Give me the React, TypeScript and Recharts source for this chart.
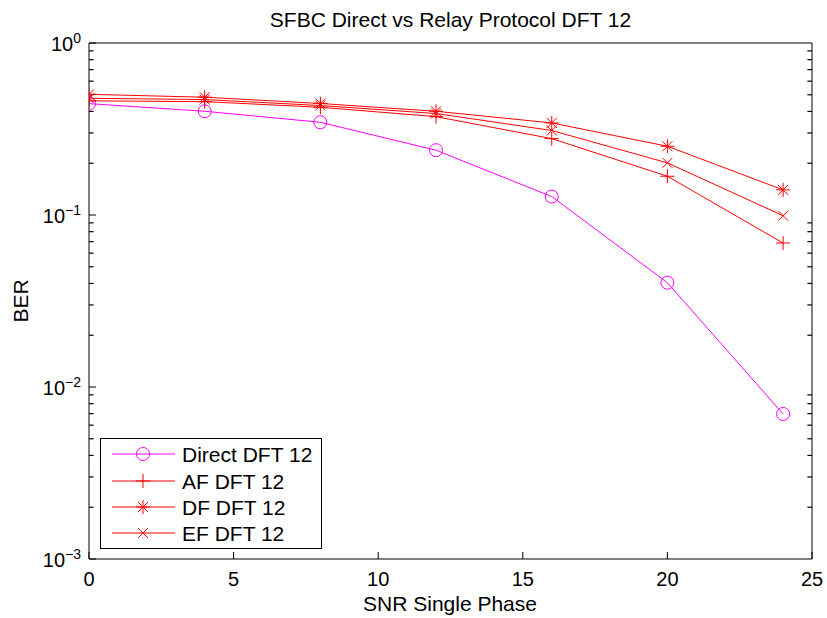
import React from 'react';
import { LineChart, Line, XAxis, YAxis, Legend, ReferenceLine } from 'recharts';

const snr = [0, 4, 8, 12, 16, 20, 24];
const directBer = [0.444, 0.401, 0.346, 0.238, 0.128, 0.0404, 0.00697];
const afBer = [0.461, 0.456, 0.423, 0.373, 0.278, 0.168, 0.0687];
const dfBer = [0.503, 0.484, 0.445, 0.401, 0.343, 0.251, 0.14];
const efBer = [0.477, 0.469, 0.433, 0.389, 0.31, 0.201, 0.099];

const xTicks = [0, 5, 10, 15, 20, 25];
const yMajorTicks = [0.001, 0.01, 0.1, 1];
const yMajorExponents = ['\u22123', '\u22122', '\u22121', '0'];
const yMinorTicks = [
  0.002, 0.003, 0.004, 0.005, 0.006, 0.007, 0.008, 0.009,
  0.02, 0.03, 0.04, 0.05, 0.06, 0.07, 0.08, 0.09,
  0.2, 0.3, 0.4, 0.5, 0.6, 0.7, 0.8, 0.9,
];
const xDomain = [0, 25];
const minorTickSpan = 0.16;

const seriesNames = ['Direct DFT 12', 'AF DFT 12', 'DF DFT 12', 'EF DFT 12'];
const seriesKeys = ['direct', 'af', 'df', 'ef'];
const seriesColors = ['#ff00ff', '#ff0000', '#ff0000', '#ff0000'];
const seriesMarkers = ['circle', 'plus', 'star', 'cross'];

const data = snr.map((s, i) => ({
  snr: s,
  direct: directBer[i],
  af: afBer[i],
  df: dfBer[i],
  ef: efBer[i],
}));

const FONT = '"Liberation Sans", Arial, Helvetica, sans-serif';

function Marker({ type, cx, cy, color }: { type: string; cx: number; cy: number; color: string }) {
  if (cx == null || cy == null) return null;
  const s = 7;
  const d = 5;
  if (type === 'circle') {
    return <circle cx={cx} cy={cy} r={6.5} fill="none" stroke={color} strokeWidth={1} />;
  }
  if (type === 'plus') {
    return (
      <path d={`M${cx - s},${cy}H${cx + s}M${cx},${cy - s}V${cy + s}`} stroke={color} strokeWidth={1} fill="none" />
    );
  }
  if (type === 'cross') {
    return (
      <path
        d={`M${cx - d},${cy - d}L${cx + d},${cy + d}M${cx - d},${cy + d}L${cx + d},${cy - d}`}
        stroke={color}
        strokeWidth={1}
        fill="none"
      />
    );
  }
  return (
    <path
      d={`M${cx - s},${cy}H${cx + s}M${cx},${cy - s}V${cy + s}M${cx - d},${cy - d}L${cx + d},${cy + d}M${cx - d},${cy + d}L${cx + d},${cy - d}`}
      stroke={color}
      strokeWidth={1}
      fill="none"
    />
  );
}

const majorIndex = (v: number) => yMajorTicks.findIndex((m) => Math.abs(v - m) / m < 1e-6);

const BottomTickLabel = (props: any) => {
  const { x, y, payload } = props;
  return (
    <text x={x} y={y + 27} textAnchor="middle" fontSize={20} fontFamily={FONT} fill="#000">
      {payload.value}
    </text>
  );
};

const LeftTickLabel = (props: any) => {
  const { x, y, payload } = props;
  const idx = majorIndex(payload.value);
  if (idx < 0) return <g />;
  return (
    <text x={x} y={y + 8} textAnchor="end" fontSize={20} fontFamily={FONT} fill="#000">
      <tspan>10</tspan>
      <tspan dy={-8} fontSize={14}>{yMajorExponents[idx]}</tspan>
    </text>
  );
};

const TitleLabel = () => (
  <text x={450.5} y={27} textAnchor="middle" fontSize={21} fontFamily={FONT} fill="#000">
    SFBC Direct vs Relay Protocol DFT 12
  </text>
);

const XLabel = () => (
  <text x={450} y={611} textAnchor="middle" fontSize={21} fontFamily={FONT} fill="#000">
    SNR Single Phase
  </text>
);

const YLabel = () => (
  <text
    x={28}
    y={301}
    textAnchor="middle"
    fontSize={21}
    fontFamily={FONT}
    fill="#000"
    transform="rotate(-90, 28, 301)"
  >
    BER
  </text>
);

const LegendBox = () => {
  const rows = [16, 43, 69, 95];
  return (
    <svg width={223} height={112} style={{ display: 'block' }}>
      <rect x={0.5} y={0.5} width={221} height={110} fill="#fff" stroke="#000" strokeWidth={1} />
      {seriesNames.map((name, i) => (
        <g key={name}>
          <path d={`M12,${rows[i]}H75`} stroke={seriesColors[i]} strokeWidth={1} fill="none" />
          <Marker type={seriesMarkers[i]} cx={43} cy={rows[i]} color={seriesColors[i]} />
          <text x={82} y={rows[i] + 8} fontSize={21} fontFamily={FONT} fill="#000">
            {name}
          </text>
        </g>
      ))}
    </svg>
  );
};

const tickLineStyle = { stroke: '#000', strokeWidth: 1 };
const axisLineStyle = { stroke: '#000', strokeWidth: 1 };

export default function App() {
  return (
    <div style={{ position: 'absolute', left: 0, top: 0, background: '#fff' }}>
      <LineChart
        width={827}
        height={618}
        data={data}
        margin={{ top: 42, right: 14, bottom: 0, left: 0 }}
        style={{ background: '#fff' }}
      >
        <XAxis
          xAxisId="bottom"
          dataKey="snr"
          type="number"
          domain={xDomain}
          ticks={xTicks}
          interval={0}
          height={59}
          stroke="#000"
          tickSize={-7}
          tickMargin={7}
          tickLine={tickLineStyle}
          tick={BottomTickLabel}
          axisLine={axisLineStyle}
          label={<XLabel />}
          allowDataOverflow
        />
        <XAxis
          xAxisId="top"
          orientation="top"
          dataKey="snr"
          type="number"
          domain={xDomain}
          ticks={xTicks}
          interval={0}
          height={1}
          stroke="#000"
          tickSize={-7}
          tickMargin={0}
          tickLine={tickLineStyle}
          tick={false}
          axisLine={axisLineStyle}
          label={<TitleLabel />}
          allowDataOverflow
        />
        <YAxis
          yAxisId="left"
          type="number"
          scale="log"
          domain={[0.001, 1]}
          ticks={yMajorTicks}
          interval={0}
          width={89}
          stroke="#000"
          tickSize={-7}
          tickMargin={15}
          tickLine={tickLineStyle}
          tick={LeftTickLabel}
          axisLine={axisLineStyle}
          label={<YLabel />}
          allowDataOverflow
        />
        <YAxis
          yAxisId="right"
          orientation="right"
          type="number"
          scale="log"
          domain={[0.001, 1]}
          ticks={yMajorTicks}
          interval={0}
          width={1}
          stroke="#000"
          tickSize={-7}
          tickMargin={0}
          tickLine={tickLineStyle}
          tick={false}
          axisLine={axisLineStyle}
          allowDataOverflow
        />
        {yMinorTicks.map((v) => (
          <ReferenceLine
            key={`lm-${v}`}
            xAxisId="bottom"
            yAxisId="left"
            segment={[
              { x: xDomain[0], y: v },
              { x: xDomain[0] + minorTickSpan, y: v },
            ]}
            stroke="#000"
            strokeWidth={1.2}
            ifOverflow="visible"
          />
        ))}
        {yMinorTicks.map((v) => (
          <ReferenceLine
            key={`rm-${v}`}
            xAxisId="bottom"
            yAxisId="left"
            segment={[
              { x: xDomain[1] - minorTickSpan, y: v },
              { x: xDomain[1], y: v },
            ]}
            stroke="#000"
            strokeWidth={1.2}
            ifOverflow="visible"
          />
        ))}
        <Legend
          layout="vertical"
          align="center"
          verticalAlign="middle"
          content={() => <LegendBox />}
          wrapperStyle={{ position: 'absolute', left: 100, top: 438, width: 223, height: 112 }}
        />
        <Line xAxisId="top" yAxisId="right" dataKey="direct" stroke="none" dot={false} activeDot={false} legendType="none" isAnimationActive={false} />
        {seriesKeys.map((key, i) => (
          <Line
            key={key}
            xAxisId="bottom"
            yAxisId="left"
            dataKey={key}
            name={seriesNames[i]}
            stroke={seriesColors[i]}
            strokeWidth={1}
            type="linear"
            isAnimationActive={false}
            dot={(p: any) => (
              <Marker
                key={`${key}-${p.index}`}
                type={seriesMarkers[i]}
                cx={p.cx}
                cy={p.cy}
                color={seriesColors[i]}
              />
            )}
            activeDot={false}
          />
        ))}
      </LineChart>
    </div>
  );
}
